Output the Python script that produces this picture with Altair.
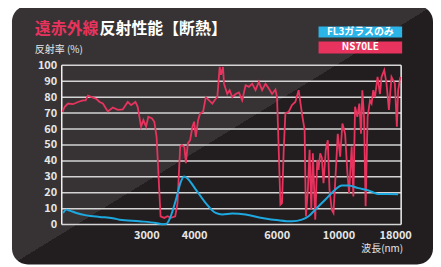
import altair as alt
import pandas as pd

# ---- data (x = position along the plotted wavelength axis) ----
red_x = [0.7,3,6.3,11.3,16.3,21.3,24,26.3,30,34.7,38,41.3,46.3,51.3,56.3,61.3,66.3,69.7,74,76.3,79.7,82,84.7,87,90.7,93,95.3,97.3,99.3,103,106.3,109.7,114,116.3,119,120.7,123.3,124.7,126.7,129,131.3,133,134.7,137,139,142,144.7,148,151.3,154.7,156.3,158.7,160,162,163,166.3,168.7,171.3,174.7,178,181.3,184.7,188,191.3,194.7,198,201.3,204.7,208,211.3,214.7,216.3,218,219.7,221.3,223,224.7,228,231.3,234.7,238,241.3,244,245.3,247.3,249,250.7,252.3,254.7,256.7,258,259.7,261.3,263,265.3,267.3,269,271.3,273,274.7,277.3,279.7,282,284.7,287,288.7,291.3,293,294.7,297,299,300.7,302,303.7,305.3,307.3,309.7,311.3,313,314.7,317.3,319.7,321.3,324,326.3,328.7,331.3,334.7,336.7,338,340.3]
red_y = [70.8,74,76,75.6,77,78,78,81,80,79,77,76,71,73.5,72,72.3,77,75,77,74,61.5,65.6,61.5,67.7,66.7,64.6,55,30,5.2,4.2,5.2,4.2,5.2,13.5,49,50,48.5,38.5,51,53,61.5,64.6,55,65.6,69.8,70.8,80,78,76,79,80,99,94,99,88.5,82,84.4,80,82,83,78,87.5,86.5,88.5,84.4,89.6,84.4,88.5,85.4,82,84.8,80,47,12.5,13.5,47,69.8,70.8,75,77,84.4,69.8,59.4,5.2,21.9,47,9.4,44.8,3.1,40.6,34.4,44.8,42,26,47,53,21.9,9.4,7.3,26,57,42.7,63.5,57,32.3,19.8,49,17.7,74,67.7,76,57,84.4,67.7,11.5,67.7,78,76,84.4,80,92.7,82,92.7,97,88.5,72,92.7,88.5,61.5,84.4,92.7]

blue_x = [1.3,4.7,8,14.7,24.7,38,51.3,58,78,94.7,101.3,104.7,108,114.7,119.7,123,126.3,134.7,144.7,154.7,161.3,171.3,184.7,201.3,218,231.3,241.3,248,254.7,264.7,274.7,281.3,288,298,308,313,318,328,338]
blue_y = [7.3,9.4,8.8,7.3,5.8,4.8,4,3.1,2.1,1,0.2,0.3,3,15.6,27,30.2,29,22,13.5,7.3,6.3,6.9,6.3,4.2,2.7,2.1,3.1,5.2,9.4,15.6,21.9,24.6,24.6,22.9,21.5,20.2,19.2,19.2,19]

x_tick_pos = [85, 133, 216, 278, 335]
x_tick_labels = ["3000", "4000", "6000", "10000", "18000"]
y_ticks = [0, 10, 20, 30, 40, 50, 60, 70, 80, 90, 100]
x_domain = [0, 341]

series_names = ["FL3ガラスのみ", "NS70LE"]
RED = "#e8335e"
BLUE = "#1ea8e0"
FONT = "Noto Sans CJK JP"
W, H = 341, 160

red_df = pd.DataFrame({"x": red_x, "y": red_y})
blue_df = pd.DataFrame({"x": blue_x, "y": blue_y})
one = pd.DataFrame({"a": [0]})

label_expr = ""
for p, l in zip(x_tick_pos, x_tick_labels):
    label_expr += f"datum.value == {p} ? '{l}' : "
label_expr += "''"

xscale = alt.Scale(domain=x_domain, nice=False, zero=False)
yscale = alt.Scale(domain=[0, 100], nice=False)
x_axis = alt.Axis(values=x_tick_pos, labelExpr=label_expr, grid=False, domain=False, ticks=False,
                  labelPadding=5, labelColor="#e6e6e6", labelFont=FONT, labelFontSize=11,
                  labelFontWeight="bold", title=None, zindex=1, labelFlush=False)
y_axis = alt.Axis(values=y_ticks, grid=False, domain=False, ticks=False, labelPadding=5,
                  labelColor="#e6e6e6", labelFont=FONT, labelFontSize=11, labelFontWeight="bold",
                  title=None, zindex=1)

grad = alt.LinearGradient(
    gradient="linear",
    stops=[alt.GradientStop(color="#373334", offset=0),
           alt.GradientStop(color="#373334", offset=0.5),
           alt.GradientStop(color="#221e1f", offset=0.5),
           alt.GradientStop(color="#221e1f", offset=1)],
    x1=0, y1=0, x2=1, y2=1)

card = alt.Chart(one).mark_rect(cornerRadius=16, fill=grad).encode(
    x=alt.value(-50), x2=alt.value(373), y=alt.value(-60), y2=alt.value(200))

grid = alt.Chart(pd.DataFrame({"v": y_ticks})).mark_rule(color="#d4d4d4", strokeWidth=1.5).encode(
    y=alt.Y("v:Q", scale=yscale, axis=y_axis))

borders = alt.Chart(pd.DataFrame({"p": x_domain})).mark_rule(color="#f0f0f0", strokeWidth=1.5).encode(
    x=alt.X("p:Q", scale=xscale, axis=x_axis))

red_line = alt.Chart(red_df).mark_line(color=RED, strokeWidth=1.8).encode(
    x=alt.X("x:Q", scale=xscale, axis=x_axis), y=alt.Y("y:Q", scale=yscale, axis=y_axis))
blue_line = alt.Chart(blue_df).mark_line(color=BLUE, strokeWidth=2, interpolate="monotone").encode(
    x=alt.X("x:Q", scale=xscale, axis=x_axis), y=alt.Y("y:Q", scale=yscale, axis=y_axis))

def txt(text, x, y, color="#ffffff", size=10, weight="normal", align="left"):
    return alt.Chart(one).mark_text(text=text, color=color, fontSize=size, font=FONT,
                                    fontWeight=weight, align=align, baseline="middle").encode(
        x=alt.value(x), y=alt.value(y))

title1 = txt("遠赤外線", -27, -36, color=RED, size=16, weight="bold")
title2 = txt("反射性能【断熱】", 38, -36, color="#ffffff", size=16, weight="bold")
ylab = txt("反射率 (%)", -27, -15, color="#e6e6e6", size=10)
xlab = txt("波長(nm)", 343, 185, color="#e6e6e6", size=10, align="right")

leg1 = alt.Chart(one).mark_rect(fill="#2ab4e8").encode(
    x=alt.value(258), x2=alt.value(342), y=alt.value(-39), y2=alt.value(-28))
leg2 = alt.Chart(one).mark_rect(fill=RED).encode(
    x=alt.value(258), x2=alt.value(342), y=alt.value(-24), y2=alt.value(-12))
leg1t = txt(series_names[0], 300, -33.5, size=10, weight="bold", align="center")
leg2t = txt(series_names[1], 300, -18, size=10, weight="bold", align="center")

chart = alt.layer(card, grid, borders, red_line, blue_line, title1, title2, ylab, xlab,
                  leg1, leg2, leg1t, leg2t).properties(
    width=W, height=H,
    autosize=alt.AutoSizeParams(type="none"),
    padding={"left": 54, "top": 57, "right": 32, "bottom": 42},
    background="#ffffff",
).configure_view(stroke=None)

chart.save("out.html", embed_options={"renderer": "svg", "actions": False})
